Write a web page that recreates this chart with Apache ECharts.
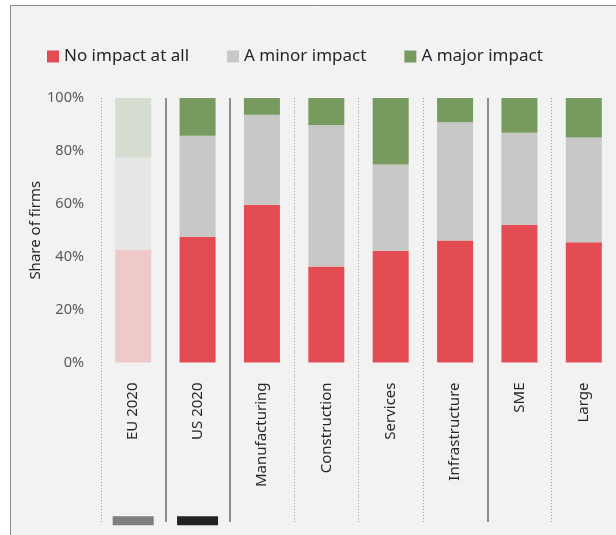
<!DOCTYPE html>
<html><head><meta charset="utf-8">
<script src="https://cdn.jsdelivr.net/npm/echarts@6/dist/echarts.min.js"></script>
<style>html,body{margin:0;padding:0;background:#fff}#c{width:616px;height:535px}</style>
</head><body><div id="c"></div>
<script>
const categories = ['EU 2020','US 2020','Manufacturing','Construction','Services','Infrastructure','SME','Large'];
const noImpact    = [42.6, 47.5, 59.6, 36.3, 42.2, 46.1, 52.1, 45.5];
const minorImpact = [34.8, 38.2, 34.1, 53.5, 32.7, 44.7, 34.8, 39.6];
const majorImpact = [22.6, 14.3, 6.3, 10.2, 25.1, 9.2, 13.1, 14.9];
const yTicks = [0, 20, 40, 60, 80, 100];
const solidDividers = [1, 2, 6];
const markerPos = [0.5, 1.5];

const colors = {red:'#e34c52', gray:'#c8c8c6', green:'#779b5f'};
const faded = {red:'#efc9ca', gray:'#e6e6e6', green:'#d4ddcf'};

function mk(vals, key){
  return vals.map((v,i)=> i===0 ? {value:v, itemStyle:{color:faded[key]}} : v);
}
const FONT = 'Noto Sans';
const chart = echarts.init(document.getElementById('c'), null, {renderer:'canvas'});
chart.setOption({
  backgroundColor:'#ffffff',
  animation:false,
  textStyle:{fontFamily:FONT},
  graphic:[{type:'rect', z:-10, silent:true, shape:{x:10.5,y:5.5,width:700,height:700},
    style:{fill:'#f2f2f2', stroke:'#8a8a8a', lineWidth:1}}],
  legend:{
    left:42, top:43, itemWidth:12, itemHeight:12, itemGap:38,
    icon:'rect',
    textStyle:{fontFamily:FONT, fontSize:17, color:'#262626'},
    data:['No impact at all','A minor impact','A major impact']
  },
  grid:[
    {left:101, right:-3, top:98, height:264.5},
    {left:101, right:-3, top:98, bottom:13}
  ],
  xAxis:[
    {type:'category', gridIndex:0, data:categories,
      axisLine:{show:false}, axisTick:{show:false},
      axisLabel:{rotate:90, margin:20, fontSize:15, color:'#262626', fontFamily:FONT}},
    {type:'value', gridIndex:1, min:0, max:8, interval:1, show:true,
      axisLine:{show:false}, axisTick:{show:false}, axisLabel:{show:false},
      splitLine:{show:true, lineStyle:{color:'#9a9a9a', type:[1,2], width:1}}}
  ],
  yAxis:[
    {type:'value', gridIndex:0, min:0, max:100, interval:20,
      axisLine:{show:false}, axisTick:{show:false}, splitLine:{show:false},
      axisLabel:{formatter:v=>yTicks.includes(v)?v+'%':'', margin:17, fontSize:14.5, color:'#595959', fontFamily:FONT},
      name:'Share of firms', nameLocation:'middle', nameGap:58, nameMoveOverlap:false,
      nameTextStyle:{fontSize:15, color:'#262626', fontFamily:FONT}},
    {type:'value', gridIndex:1, min:0, max:100, show:false}
  ],
  series:[
    {name:'No impact at all', type:'bar', stack:'s', barWidth:36, data:mk(noImpact,'red'), itemStyle:{color:colors.red}},
    {name:'A minor impact', type:'bar', stack:'s', barWidth:36, data:mk(minorImpact,'gray'), itemStyle:{color:colors.gray}},
    {name:'A major impact', type:'bar', stack:'s', barWidth:36, data:mk(majorImpact,'green'), itemStyle:{color:colors.green}},
    {type:'scatter', xAxisIndex:1, yAxisIndex:1, symbol:'rect', symbolSize:[41,9], silent:true,
      itemStyle:{opacity:1},
      data:[{value:[markerPos[0],0.3], itemStyle:{color:'#7f7f7f', opacity:1}},{value:[markerPos[1],0.3], itemStyle:{color:'#222222', opacity:1}}],
      markLine:{silent:true, symbol:'none', label:{show:false},
        lineStyle:{color:'#8c8c8c', type:'solid', width:2},
        data:solidDividers.map(d=>({xAxis:d}))}}
  ]
});
</script></body></html>
